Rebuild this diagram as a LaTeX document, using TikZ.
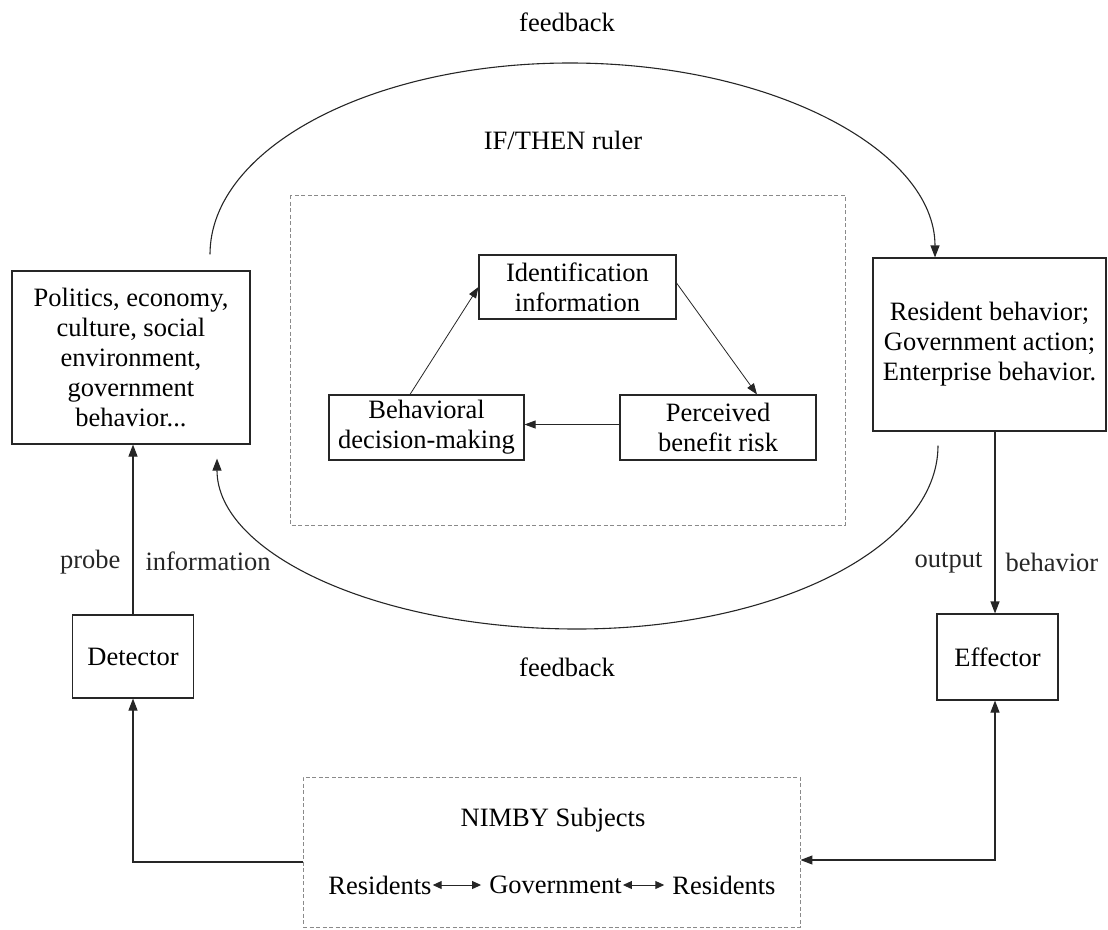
\documentclass[tikz,border=0pt]{standalone}
\usepackage{fontspec}
\setmainfont{Liberation Serif}
\usepackage{tikz}
\usetikzlibrary{arrows.meta,positioning}
\definecolor{linex}{HTML}{262626}
\definecolor{dashx}{HTML}{8A8A8A}
\tikzset{
  ar/.style={-{Triangle[length=12pt,width=9pt]},line width=1.1pt,linex},
  arin/.style={-{Triangle[length=11pt,width=8pt]},line width=0.8pt,linex},
  dar/.style={{Triangle[length=9pt,width=8pt]}-{Triangle[length=9pt,width=8pt]},line width=1pt,linex,shorten <=1pt,shorten >=8pt},
  box/.style={draw=linex,line width=1.1pt,align=center,inner sep=2pt},
  dbox/.style={draw=dashx,line width=0.9pt,dash pattern=on 4pt off 2.5pt},
  lab/.style={inner sep=0pt}
}
\begin{document}
\fontsize{26.5}{30}\selectfont
\begin{tikzpicture}[x=1pt,y=-1pt]
\useasboundingbox (0,0) rectangle (1108,929);
% outer boxes
\node[box,minimum width=238pt,minimum height=173pt] (env) at (131,357.5)
  {Politics, economy,\\culture, social\\environment,\\government\\behavior...};
\node[box,minimum width=233pt,minimum height=173pt] (res) at (989.5,344.5)
  {Resident behavior;\\Government action;\\Enterprise behavior.};
\node[box,minimum width=121pt,minimum height=83pt] (det) at (133,656.5) {Detector};
\node[box,minimum width=121pt,minimum height=86pt] (eff) at (997.5,657) {Effector};
% IF/THEN ruler
\node[lab] (ifthen) at (563,140) {IF/THEN ruler};
\draw[dbox] (290,195) rectangle (845,525);
\node[box,minimum width=197pt,minimum height=64pt] (ident) at (577.5,287) {Identification\\information};
\node[box,minimum width=195pt,minimum height=65pt] (behav) at (426.5,427.5) {Behavioral\\decision-making};
\node[box,minimum width=196pt,minimum height=65pt] (perc) at (718,427.5) {Perceived\\benefit risk};
\draw[arin] ([xshift=-16.5pt]behav.north) -- (ident.west);
\draw[arin] ([yshift=4pt]ident.east) -- ([xshift=39pt]perc.north);
\draw[arin] ([yshift=3pt]perc.west) -- ([yshift=3pt]behav.east);
% feedback loops
\node[lab] (fbtop) at (567,22) {feedback};
\node[lab] (fbbot) at (567,667) {feedback};
\draw[ar] ([xshift=79pt,yshift=16pt]env.north) .. controls +(0,-106) and +(-199,0) .. (570,63)
  .. controls +(202,0) and +(0,-107) .. ([xshift=-54.5pt]res.north);
\draw[ar] ([xshift=-51.5pt,yshift=-14pt]res.south) .. controls +(0,102) and +(199,0) .. (577,629)
  .. controls +(-199,0) and +(0,95) .. ([xshift=86pt,yshift=-14pt]env.south);
% detector / effector
\draw[ar] (det.north) -- (det.north |- env.south)
  node[lab,pos=0.31,left=12pt] (probe) {probe}
  node[lab,pos=0.31,right=12pt] (info) {information};
\draw[ar] ([xshift=-2.5pt]eff.north |- res.south) -- ([xshift=-2.5pt]eff.north)
  node[lab,pos=0.72,left=12pt] (output) {output}
  node[lab,pos=0.72,right=10pt] (behavior) {behavior};
% NIMBY subjects
\node[dbox,minimum width=497pt,minimum height=150pt] (nimby) at (551.5,852) {};
\node[lab] (subj) at (553,820) {NIMBY Subjects};
\node[lab] (res1) at (380,885) {Residents};
\node[lab] (gov) at (555.5,885) {Government};
\node[lab] (res2) at (724,885) {Residents};
\draw[dar] (res1.east) -- (gov.west);
\draw[dar] (gov.east) -- (res2.west);
\draw[ar] ([yshift=-10pt]nimby.west) -| (det.south);
\draw[ar,{Triangle[length=12pt,width=9pt]}-{Triangle[length=12pt,width=9pt]}] ([xshift=-2.5pt]eff.south) |- ([yshift=-8pt]nimby.east);
\end{tikzpicture}
\end{document}
